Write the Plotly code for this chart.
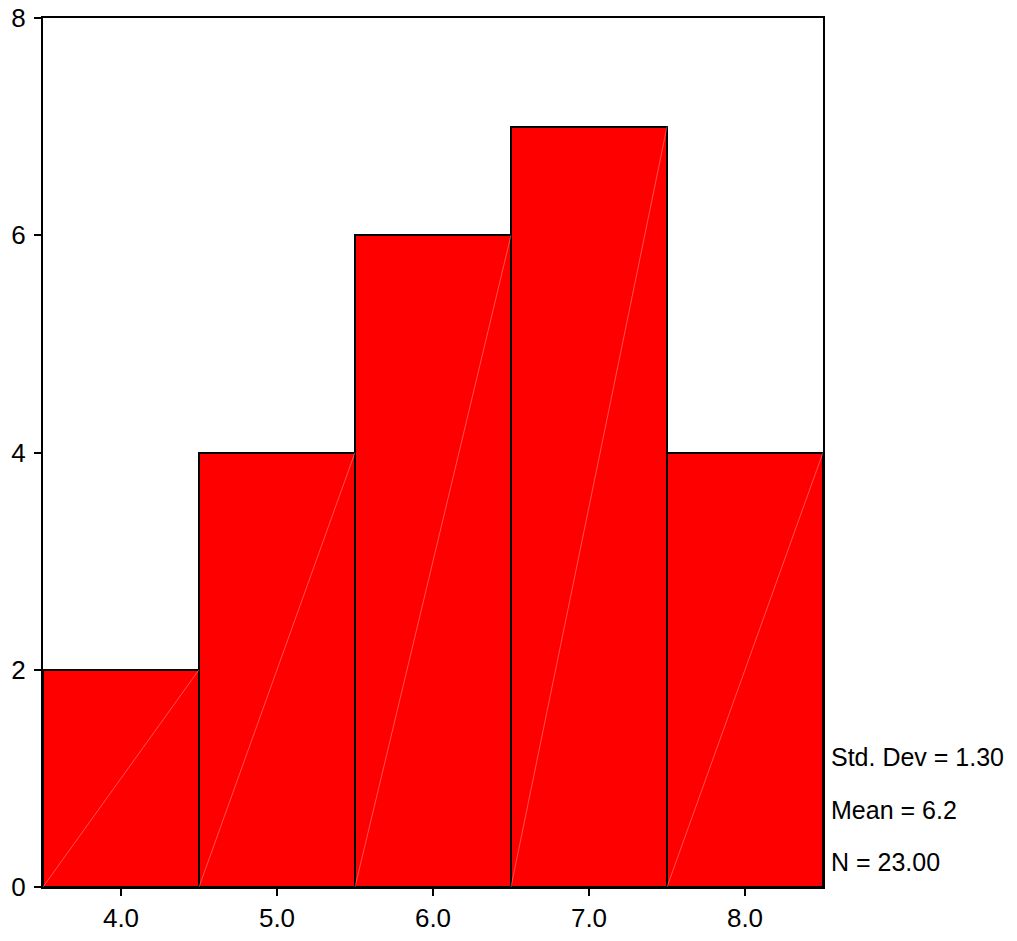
import plotly.graph_objects as go

bin_centers = [4.0, 5.0, 6.0, 7.0, 8.0]
counts = [2, 4, 6, 7, 4]
bin_width = 1.0
y_ticks = [0, 2, 4, 6, 8]
x_tick_labels = ["4.0", "5.0", "6.0", "7.0", "8.0"]
stats = ["Std. Dev = 1.30", "Mean = 6.2", "N = 23.00"]

FONT = "Liberation Sans Narrow, Arial Narrow, Liberation Sans, Arial, sans-serif"
FS = 25
TICK_FS = 26

fig = go.Figure()
fig.add_trace(go.Bar(
    x=bin_centers, y=counts, width=[bin_width] * len(bin_centers),
    marker=dict(color="#ff0000", line=dict(color="black", width=2)),
    showlegend=False, hoverinfo="x+y",
))

# faint diagonal artifacts inside bars
for c, h in zip(bin_centers, counts):
    fig.add_trace(go.Scatter(
        x=[c - bin_width / 2, c + bin_width / 2], y=[0, h], mode="lines",
        line=dict(color="rgba(255,170,170,0.8)", width=0.6),
        showlegend=False, hoverinfo="skip",
    ))

fig.update_layout(
    width=1017, height=941,
    margin=dict(l=43, r=194, t=18, b=54),
    paper_bgcolor="white", plot_bgcolor="white",
    bargap=0,
    font=dict(family=FONT, size=FS, color="black"),
    xaxis=dict(
        range=[3.5, 8.5], tickvals=bin_centers, ticktext=x_tick_labels,
        showgrid=False, zeroline=False, showline=True, linecolor="black", linewidth=2,
        mirror=True, ticks="outside", ticklen=7, tickwidth=2, tickcolor="black",
        tickfont=dict(family=FONT, size=TICK_FS), automargin=False,
    ),
    yaxis=dict(
        range=[0, 8], tickvals=y_ticks, ticktext=[str(v) for v in y_ticks],
        showgrid=False, zeroline=False, showline=True, linecolor="black", linewidth=2,
        mirror=True, ticks="outside", ticklen=7, tickwidth=2, tickcolor="black",
        tickfont=dict(family=FONT, size=TICK_FS), ticklabelstandoff=3, automargin=False,
    ),
)

stat_y = [1.20, 0.71, 0.23]
for txt, yy in zip(stats, stat_y):
    fig.add_annotation(
        x=1.0, xref="paper", xshift=6, y=yy, yref="y", text=txt, showarrow=False,
        xanchor="left", yanchor="middle", font=dict(family=FONT, size=FS, color="black"),
    )

fig.write_html(
    "out.html",
    config={"displayModeBar": False},
    post_script="document.body.style.margin='0';document.body.style.padding='0';",
)
